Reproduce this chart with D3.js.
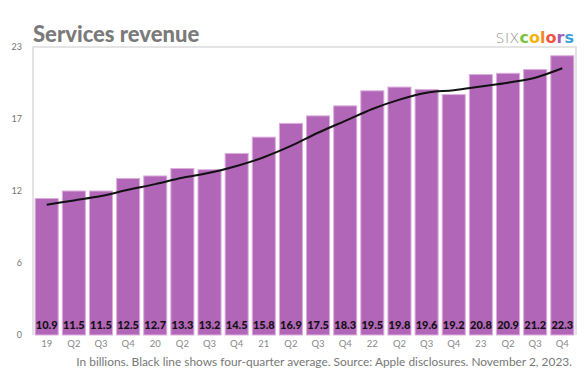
<!DOCTYPE html>
<html><head><meta charset="utf-8">
<script src="https://cdn.jsdelivr.net/npm/d3@7"></script>
<style>body{margin:0;background:#fff}svg{display:block}</style>
</head><body>
<svg id="c" width="586" height="382"></svg>
<script>
const categories = ["19","Q2","Q3","Q4","20","Q2","Q3","Q4","21","Q2","Q3","Q4","22","Q2","Q3","Q4","23","Q2","Q3","Q4"];
const revenue = [10.9,11.5,11.5,12.5,12.7,13.3,13.2,14.5,15.8,16.9,17.5,18.3,19.5,19.8,19.6,19.2,20.8,20.9,21.2,22.3];
const average = [10.4,10.75,11.1,11.6,12.05,12.55,12.95,13.5,14.2,15.1,16.15,17.1,18.05,18.8,19.35,19.55,19.85,20.15,20.55,21.3];
const yTicks = [0,5.75,11.5,17.25,23];
const yTickLabels = ["0","6","12","17","23"];

const svg = d3.select("#c");
const font = "Lato, 'Open Sans', sans-serif";
const keys = categories.map((c,i)=>i);
const x = d3.scaleBand().domain(keys).range([33,576]).paddingInner(0.15).paddingOuter(0.08);
const y = d3.scaleLinear().domain([0,23]).range([335,47]);

// frame
svg.append("path").attr("d",`M33,335V47H576V335`).attr("fill","none").attr("stroke","#dcdcdc").attr("stroke-width",1.5);

// bars
svg.append("g").selectAll("rect").data(revenue).join("rect")
  .attr("x",(d,i)=>x(i)).attr("width",x.bandwidth())
  .attr("y",d=>y(d)).attr("height",d=>y(0)-y(d))
  .attr("fill","#b266b8").attr("stroke","#dcaede").attr("stroke-width",1);

// value labels
svg.append("g").selectAll("text").data(revenue).join("text")
  .attr("x",(d,i)=>x(i)+x.bandwidth()/2).attr("y",329)
  .attr("text-anchor","middle").attr("font-family",font).attr("font-weight",900)
  .attr("font-size",11).attr("fill","#111").text(d=>d.toFixed(1));

// average line
const line = d3.line().x((d,i)=>x(i)+x.bandwidth()/2).y(d=>y(d)).curve(d3.curveMonotoneX);
svg.append("path").datum(average).attr("d",line).attr("fill","none").attr("stroke","#111").attr("stroke-width",2);

// y axis labels
const yAxis = d3.axisLeft(y).tickValues(yTicks).tickFormat((d,i)=>yTickLabels[i]).tickSize(0).tickPadding(0);
const yg = svg.append("g").attr("transform","translate(22,0)").call(yAxis);
yg.select(".domain").remove();
yg.selectAll("text").attr("font-family",font).attr("font-size",9).attr("fill","#777");

// x axis labels
const xAxis = d3.axisBottom(x).tickFormat(i=>categories[i]).tickSize(0).tickPadding(0);
const xg = svg.append("g").attr("transform","translate(0,340)").call(xAxis);
xg.select(".domain").remove();
xg.selectAll("text").attr("font-family",font).attr("font-size",9.5).attr("fill","#888");

// title
svg.append("text").attr("x",33).attr("y",42).attr("font-family",font).attr("font-weight",900)
  .attr("font-size",22).attr("fill","#7a7a7a").text("Services revenue");

// logo
const logo = svg.append("text").attr("x",574).attr("y",43).attr("text-anchor","end").attr("font-family","'DejaVu Sans', sans-serif").attr("font-size",16);
logo.append("tspan").attr("fill","#8a8a8a").attr("font-weight",200).attr("font-size",14).attr("letter-spacing",0.5).text("SIX");
const letters = [["c","#7cc242"],["o","#f6b40e"],["l","#f28a2a"],["o","#ee5640"],["r","#a35bb5"],["s","#3a9fdc"]];
letters.forEach(([t,c])=>logo.append("tspan").attr("fill",c).attr("font-weight",700).text(t));

// footer
svg.append("text").attr("x",572).attr("y",366).attr("text-anchor","end").attr("font-family",font)
  .attr("font-size",11.9).attr("fill","#777")
  .text("In billions. Black line shows four-quarter average. Source: Apple disclosures. November 2, 2023.");
</script>
</body></html>
